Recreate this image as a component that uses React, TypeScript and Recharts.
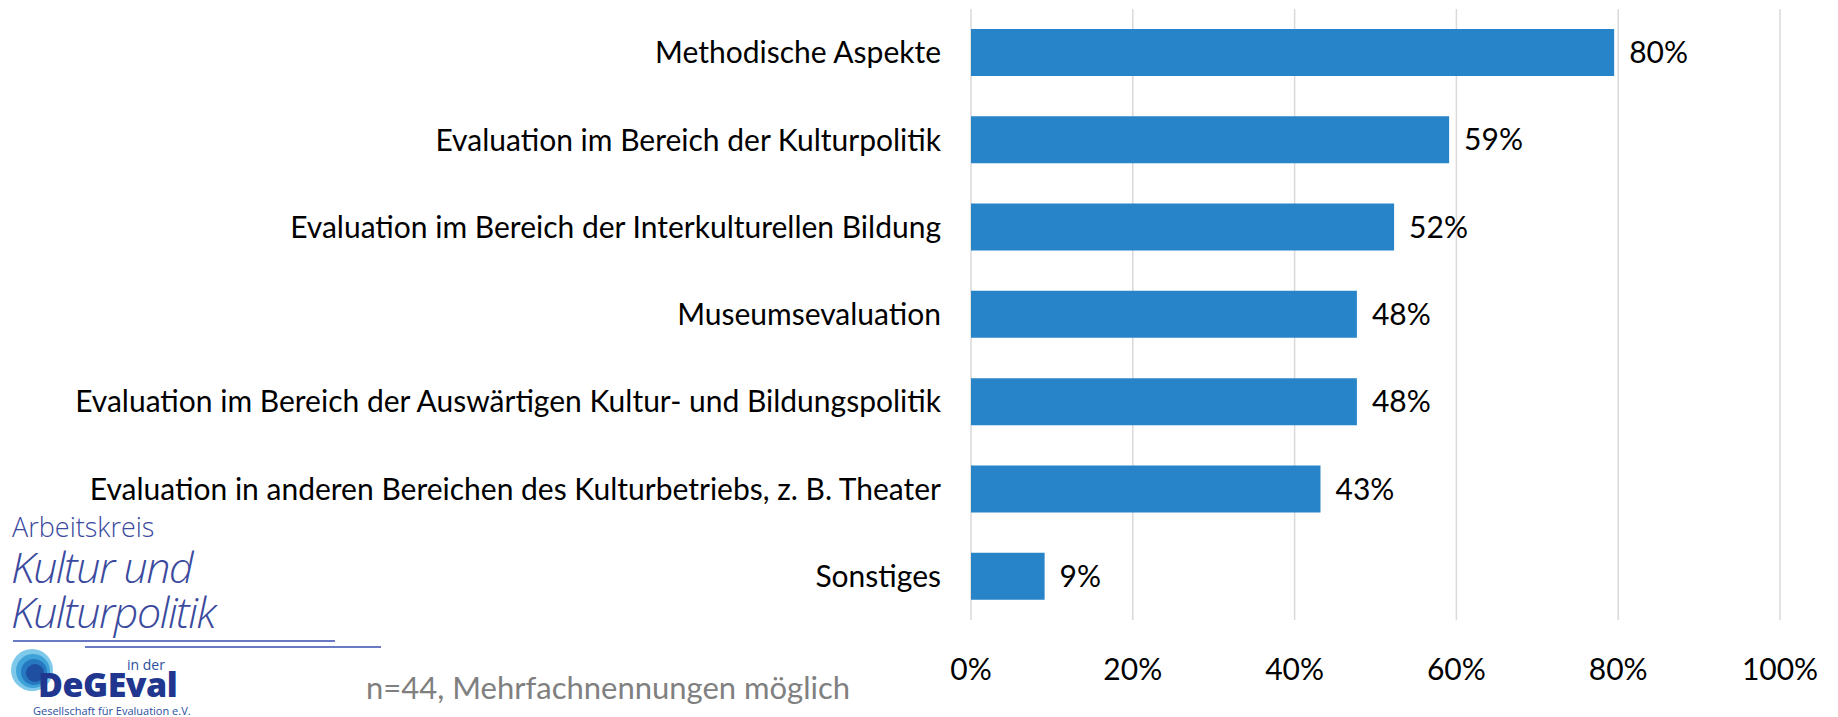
import React from 'react';
import { BarChart, Bar, XAxis, YAxis, CartesianGrid, LabelList } from 'recharts';

const categories = [
  'Methodische Aspekte',
  'Evaluation im Bereich der Kulturpolitik',
  'Evaluation im Bereich der Interkulturellen Bildung',
  'Museumsevaluation',
  'Evaluation im Bereich der Auswärtigen Kultur- und Bildungspolitik',
  'Evaluation in anderen Bereichen des Kulturbetriebs, z. B. Theater',
  'Sonstiges',
];
const shares = [79.5, 59.1, 52.3, 47.7, 47.7, 43.2, 9.1];
const shareLabels = ['80%', '59%', '52%', '48%', '48%', '43%', '9%'];
const xTicks = [0, 20, 40, 60, 80, 100];

const FONT = 'Lato, "Open Sans", sans-serif';
const BLUE = '#2884C8';
const LOGO = '#3B4A9E';

const data = categories.map((name, i) => ({ name, share: shares[i], label: shareLabels[i] }));

const Logo = () => (
  <>
    <div style={{ position: 'absolute', left: 12, top: 513, fontFamily: '"Open Sans", sans-serif', fontWeight: 300, fontSize: 27, color: LOGO, lineHeight: 1 }}>
      Arbeitskreis
    </div>
    <div style={{ position: 'absolute', left: 11, top: 545, fontFamily: '"Open Sans", sans-serif', fontWeight: 300, fontStyle: 'italic', fontSize: 43, color: LOGO, lineHeight: 1, letterSpacing: -1.5 }}>
      Kultur und
    </div>
    <div style={{ position: 'absolute', left: 11, top: 590, fontFamily: '"Open Sans", sans-serif', fontWeight: 300, fontStyle: 'italic', fontSize: 43, color: LOGO, lineHeight: 1, letterSpacing: -1.5 }}>
      Kulturpolitik
    </div>
    <svg style={{ position: 'absolute', left: 0, top: 630 }} width={400} height={87}>
      <line x1={13} x2={335} y1={11} y2={11} stroke="#6A79C4" strokeWidth={2} />
      <line x1={85} x2={381} y1={17} y2={17} stroke="#6A79C4" strokeWidth={2} />
      <circle cx={32} cy={40} r={21} fill="#7EC8EA" />
      <circle cx={33} cy={41} r={17} fill="#3FA3DA" />
      <circle cx={34} cy={42} r={13} fill="#2679C0" />
      <circle cx={35} cy={43} r={9} fill="#1E4FA0" />
      <text x={127} y={40} fontFamily='"Open Sans", sans-serif' fontSize={14} fill="#2A4FA0">in der</text>
      <text x={38} y={67} fontFamily='"Open Sans", sans-serif' fontWeight={800} fontSize={34} fill="#20368F" letterSpacing={-0.5}>DeGEval</text>
      <text x={33} y={85} fontFamily='"Open Sans", sans-serif' fontSize={11} fill="#2A4FA0">Gesellschaft für Evaluation e.V.</text>
    </svg>
  </>
);

export default function App() {
  return (
    <div style={{ position: 'absolute', left: 0, top: 0, width: 1838, height: 717, background: '#fff', overflow: 'hidden' }}>
      <BarChart
        layout="vertical"
        width={1838}
        height={717}
        data={data}
        margin={{ top: 9, right: 58, left: 0, bottom: 37 }}
      >
        <CartesianGrid horizontal={false} stroke="#D9D9D9" strokeWidth={1.5} />
        <XAxis
          type="number"
          domain={[0, 100]}
          ticks={xTicks}
          tickFormatter={(v: number) => `${v}%`}
          axisLine={false}
          tickLine={false}
          tickSize={0}
          tickMargin={39}
          height={60}
          tick={{ fill: '#000', fontSize: 30, fontFamily: FONT }}
        />
        <YAxis
          type="category"
          dataKey="name"
          width={971}
          axisLine={false}
          tickLine={false}
          tickSize={0}
          tickMargin={30}
          tick={{ fill: '#000', fontSize: 30, fontFamily: FONT }}
        />
        <Bar dataKey="share" fill={BLUE} barSize={47} isAnimationActive={false}>
          <LabelList dataKey="label" position="right" offset={15} fill="#000" fontSize={30} fontFamily={FONT} />
        </Bar>
      </BarChart>
      <Logo />
      <div style={{ position: 'absolute', left: 366, top: 669, fontFamily: FONT, fontSize: 31, color: '#808080', lineHeight: 1.2 }}>
        n=44, Mehrfachnennungen möglich
      </div>
    </div>
  );
}
